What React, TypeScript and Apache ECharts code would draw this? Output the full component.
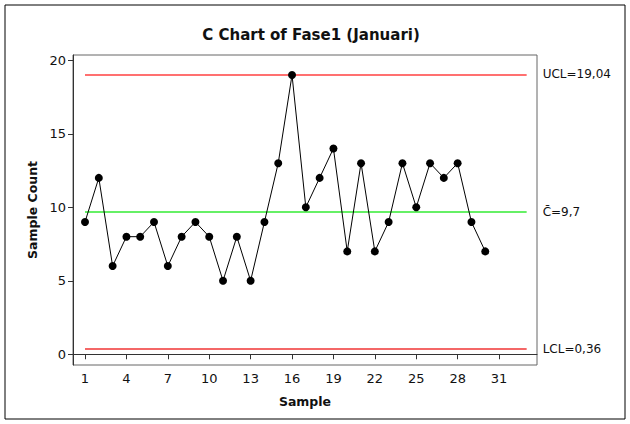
import React, { useEffect, useRef } from "react";
import * as echarts from "echarts";

const samples = [1,2,3,4,5,6,7,8,9,10,11,12,13,14,15,16,17,18,19,20,21,22,23,24,25,26,27,28,29,30];
const counts = [9,12,6,8,8,9,6,8,9,8,5,8,5,9,13,19,10,12,14,7,13,7,9,13,10,13,12,13,9,7];
const xTicks = [1,4,7,10,13,16,19,22,25,28,31];
const yTicks = [0,5,10,15,20];
const UCL = 19.04;
const CL = 9.7;
const LCL = 0.36;
const limitLabels = ["UCL=19,04", "C\u0304=9,7", "LCL=0,36"];

export default function App() {
  const ref = useRef<HTMLDivElement>(null);
  useEffect(() => {
    if (!ref.current) return;
    const chart = echarts.init(ref.current, null, { renderer: "svg" });
    const font = "DejaVu Sans";
    const limitLine = (v: number, color: string, width: number, label: string) => [
      {
        coord: [1, v],
        lineStyle: { color, width, type: "solid" },
        label: { show: true, position: "end", formatter: label, distance: 16, color: "#111", fontSize: 12, fontFamily: font },
      },
      { coord: [33, v] },
    ];
    chart.setOption({
      animation: false,
      backgroundColor: "#fff",
      textStyle: { fontFamily: font },
      title: {
        text: "C Chart of Fase1 (Januari)",
        left: 306,
        textAlign: "center",
        top: 22,
        textStyle: { fontSize: 15, fontWeight: "bold", color: "#111", fontFamily: font },
      },
      graphic: [
        { type: "rect", shape: { x: 5, y: 5, width: 620, height: 414 }, style: { fill: "none", stroke: "#000", lineWidth: 1 }, silent: true },
      ],
      grid: { left: 73, right: 93, top: 55, bottom: 59, show: true, borderColor: "#666", borderWidth: 1 },
      xAxis: {
        type: "value",
        min: 0.13,
        max: 33.75,
        name: "Sample",
        nameLocation: "middle",
        nameGap: 30,
        nameTextStyle: { fontWeight: "bold", fontSize: 12.5, color: "#111", fontFamily: font },
        axisLine: { show: true, lineStyle: { color: "#333" } },
        axisTick: { show: true, length: 5, customValues: xTicks, lineStyle: { color: "#333" } },
        axisLabel: { customValues: xTicks, fontSize: 13, color: "#111", margin: 7, fontFamily: font },
        splitLine: { show: false },
      },
      yAxis: {
        type: "value",
        min: -0.73,
        max: 20.36,
        name: "Sample Count",
        nameLocation: "middle",
        nameGap: 34,
        nameTextStyle: { fontWeight: "bold", fontSize: 12.5, color: "#111", fontFamily: font },
        axisLine: { show: true, lineStyle: { color: "#333" } },
        axisTick: { show: true, length: 5, customValues: yTicks, lineStyle: { color: "#333" } },
        axisLabel: { customValues: yTicks, fontSize: 13, color: "#111", margin: 7, fontFamily: font },
        splitLine: { show: false },
      },
      series: [
        {
          type: "line",
          data: samples.map((s, i) => [s, counts[i]]),
          symbol: "circle",
          symbolSize: 8,
          itemStyle: { color: "#000" },
          lineStyle: { color: "#000", width: 1 },
          z: 3,
          markLine: {
            silent: true,
            symbol: "none",
            z: 1,
            data: [
              limitLine(UCL, "#ff4040", 1.5, limitLabels[0]),
              limitLine(CL, "#66f066", 2, limitLabels[1]),
              limitLine(LCL, "#f03434", 1.5, limitLabels[2]),
            ],
          },
        },
      ],
    });
    return () => chart.dispose();
  }, []);
  return <div ref={ref} style={{ position: "fixed", left: 0, top: 0, width: 630, height: 424 }} />;
}
